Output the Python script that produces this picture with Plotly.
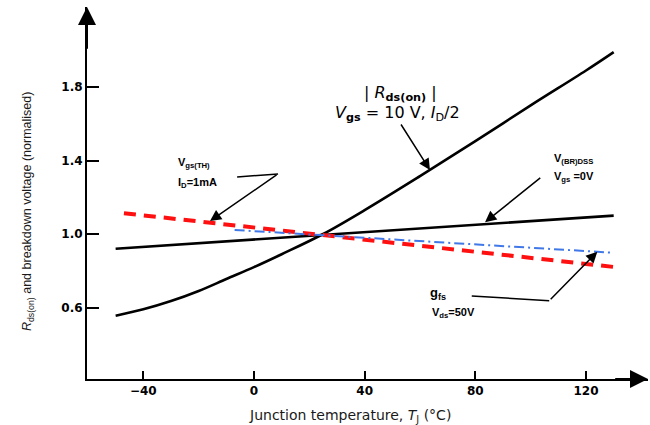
import plotly.graph_objects as go

# ---- data ----
rds_T = [-50, -40, -30, -20, -10, 0, 10, 25, 40, 60, 80, 100, 120, 130]
rds_v = [0.555, 0.59, 0.635, 0.69, 0.755, 0.82, 0.89, 1.0, 1.13, 1.315, 1.505, 1.70, 1.89, 1.99]

bvdss_T = [-50, 130]
bvdss_v = [0.92, 1.10]

vth_T = [-47, 131]
vth_v = [1.113, 0.819]

gfs_T = [-7, 130]
gfs_v = [1.022, 0.898]

x_ticks = [-40, 0, 40, 80, 120]
y_ticks = [0.6, 1.0, 1.4, 1.8]
x_title = "Junction temperature, <i>T</i><sub>J</sub> (°C)"
y_title = "<i>R</i><sub>ds(on)</sub> and breakdown voltage (normalised)"

X_RANGE = [-60.35, 142.4]
Y_RANGE = [0.2109, 2.2354]

fig = go.Figure()
fig.add_trace(go.Scatter(x=rds_T, y=rds_v, mode="lines", line=dict(color="black", width=2.6, shape="spline"), hoverinfo="skip"))
fig.add_trace(go.Scatter(x=bvdss_T, y=bvdss_v, mode="lines", line=dict(color="black", width=2.6), hoverinfo="skip"))
fig.add_trace(go.Scatter(x=vth_T, y=vth_v, mode="lines", line=dict(color="#ff1010", width=4, dash="12px,8px"), hoverinfo="skip"))
fig.add_trace(go.Scatter(x=gfs_T, y=gfs_v, mode="lines", line=dict(color="#4078e8", width=2, dash="10px,4px,2px,4px"), hoverinfo="skip"))

tick_font = dict(family="DejaVu Sans", size=12, color="black", weight="bold")
lbl_font = dict(family="Liberation Sans", size=11, color="black")

ann = []
# axis arrows
ann.append(dict(x=X_RANGE[0], y=Y_RANGE[1], ax=X_RANGE[0], ay=2.0, xref="x", yref="y", axref="x", ayref="y",
                showarrow=True, arrowhead=2, arrowsize=1.8, arrowwidth=2, arrowcolor="black", text=""))
ann.append(dict(x=X_RANGE[1], y=Y_RANGE[0], ax=130, ay=Y_RANGE[0], xref="x", yref="y", axref="x", ayref="y",
                showarrow=True, arrowhead=2, arrowsize=1.8, arrowwidth=2, arrowcolor="black", text=""))
# axis titles
ann.append(dict(x=0.469, y=-0.10, xref="paper", yref="paper", showarrow=False, text=x_title,
                font=dict(family="DejaVu Sans", size=14, color="#1a1a1a"), xanchor="center", yanchor="middle"))
ann.append(dict(x=-0.105, y=0.4516, xref="paper", yref="paper", showarrow=False, text=y_title, textangle=-90,
                font=dict(family="Liberation Sans", size=12.5, color="#1a1a1a"), xanchor="center", yanchor="middle"))

# Rds(on) label
ann.append(dict(x=52.8, y=1.762, xref="x", yref="y", showarrow=False,
                text="| <i>R</i><sub><b>ds(on)</b></sub> |", font=dict(family="DejaVu Sans", size=16, color="black")))
ann.append(dict(x=52.0, y=1.655, xref="x", yref="y", showarrow=False,
                text="<i>V</i><sub><b>gs</b></sub> = 10 V, <i>I</i><sub>D</sub>/2", font=dict(family="DejaVu Sans", size=16, color="black")))
ann.append(dict(x=63.6, y=1.348, ax=52.8, ay=1.604, xref="x", yref="y", axref="x", ayref="y", text="",
                showarrow=True, arrowhead=2, arrowsize=1.5, arrowwidth=1.5, arrowcolor="black"))

# Vgs(TH) label
ann.append(dict(x=-28.2, y=1.386, xref="x", yref="y", showarrow=False, xanchor="left",
                text="<b>V<sub>gs(TH)</sub></b>", font=lbl_font))
ann.append(dict(x=-28.2, y=1.278, xref="x", yref="y", showarrow=False, xanchor="left",
                text="<b>I<sub>D</sub>=1mA</b>", font=lbl_font))
ann.append(dict(x=-15.9, y=1.071, ax=8.7, ay=1.327, xref="x", yref="y", axref="x", ayref="y", text="",
                showarrow=True, arrowhead=2, arrowsize=1.5, arrowwidth=1.5, arrowcolor="black"))

# V(BR)DSS label
ann.append(dict(x=107.7, y=1.408, xref="x", yref="y", showarrow=False, xanchor="left",
                text="<b>V<sub>(BR)DSS</sub></b>", font=lbl_font))
ann.append(dict(x=107.7, y=1.31, xref="x", yref="y", showarrow=False, xanchor="left",
                text="<b>V<sub>gs</sub> =0V</b>", font=lbl_font))
ann.append(dict(x=83.5, y=1.064, ax=104.0, ay=1.312, xref="x", yref="y", axref="x", ayref="y", text="",
                showarrow=True, arrowhead=2, arrowsize=1.5, arrowwidth=1.5, arrowcolor="black"))

# gfs label
ann.append(dict(x=62.9, y=0.677, xref="x", yref="y", showarrow=False, xanchor="left",
                text="<b>g<sub>fs</sub></b>", font=dict(family="Liberation Sans", size=13, color="black")))
ann.append(dict(x=63.6, y=0.568, xref="x", yref="y", showarrow=False, xanchor="left",
                text="<b>V<sub>ds</sub>=50V</b>", font=lbl_font))
ann.append(dict(x=124.1, y=0.904, ax=106.7, ay=0.637, xref="x", yref="y", axref="x", ayref="y", text="",
                showarrow=True, arrowhead=2, arrowsize=1.5, arrowwidth=1.5, arrowcolor="black"))

shapes = [
    dict(type="line", xref="x", yref="y", x0=-6.1, y0=1.310, x1=8.7, y1=1.327, line=dict(color="black", width=1.5)),
    dict(type="line", xref="x", yref="y", x0=78.7, y0=0.663, x1=106.7, y1=0.637, line=dict(color="black", width=1.5)),
]

fig.update_layout(
    width=650, height=425,
    margin=dict(l=87, r=2, t=7, b=46, autoexpand=False),
    paper_bgcolor="white", plot_bgcolor="white",
    showlegend=False,
    annotations=ann, shapes=shapes,
    xaxis=dict(range=X_RANGE, tickvals=x_ticks, ticks="inside", ticklen=8, tickwidth=1.5, tickcolor="black",
               showline=True, linewidth=2, linecolor="black", showgrid=False, zeroline=False,
               tickfont=tick_font, fixedrange=True, automargin=False),
    yaxis=dict(range=Y_RANGE, tickvals=y_ticks, ticks="inside", ticklen=12, tickwidth=1.5, tickcolor="black",
               showline=True, linewidth=2, linecolor="black", showgrid=False, zeroline=False,
               tickfont=tick_font, tickformat=".1f", fixedrange=True, automargin=False),
)

fig.write_html("out.html", config={"displayModeBar": False}, post_script="document.body.style.margin='0';")
